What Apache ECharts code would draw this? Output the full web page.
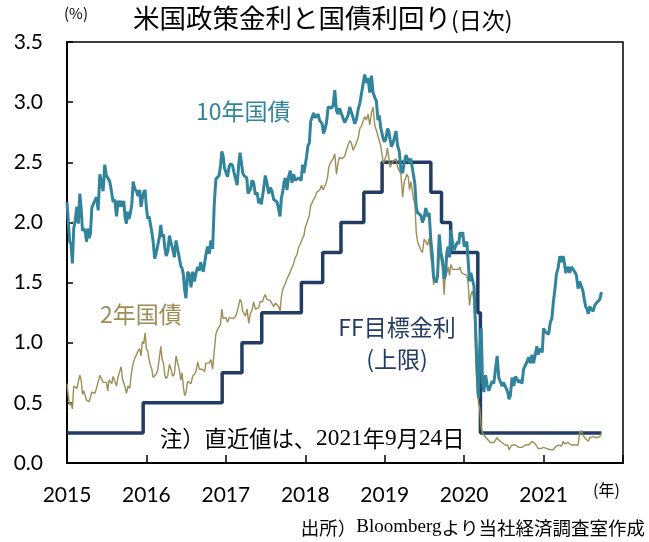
<!DOCTYPE html>
<html><head><meta charset="utf-8">
<script src="https://cdn.jsdelivr.net/npm/echarts@6/dist/echarts.min.js"></script>
<style>html,body{margin:0;padding:0;background:#fff}#c{width:649px;height:542px}</style>
</head><body><div id="c"></div>
<script>
// ---- axis ticks ----
const tickYears = [2015, 2016, 2017, 2018, 2019, 2020, 2021];
const yTicks = [0, 0.5, 1.0, 1.5, 2.0, 2.5, 3.0, 3.5];
const lastDate = '2021-09-24';

// ---- FF target rate (upper bound), change dates ----
const ffDates = ['2015-01-01','2015-12-17','2016-12-15','2017-03-16','2017-06-15','2017-12-14','2018-03-22','2018-06-14','2018-09-27','2018-12-20','2019-08-01','2019-09-19','2019-10-31','2020-03-04','2020-03-16','2021-09-24'];
const ffValues = [0.25,0.50,0.75,1.00,1.25,1.50,1.75,2.00,2.25,2.50,2.25,2.00,1.75,1.25,0.25,0.25];

// ---- 10-year yield, weekly readings grouped by month ----
const y10_2015 = [[2.17,2.00,1.84,1.82,1.66],[1.95,2.02,2.13,1.99],[2.24,2.11,1.93,1.95,1.92],[1.84,1.95,1.87,1.91,2.12],[2.15,2.14,2.21,2.10],[2.40,2.39,2.26,2.48],[2.39,2.40,2.34,2.26],[2.17,2.19,2.05,2.18],[2.13,2.18,2.13,2.18,2.04],[1.99,2.09,2.03,2.08,2.15],[2.34,2.28,2.26,2.22],[2.27,2.13,2.20,2.25,2.27]];
const y10_2016 = [[2.12,2.03,2.05,2.06,1.92],[1.84,1.70,1.75,1.76],[1.88,1.98,1.88,1.90,1.79],[1.72,1.76,1.89,1.83],[1.78,1.71,1.85,1.85],[1.70,1.64,1.62,1.57,1.44],[1.37,1.59,1.57,1.46],[1.59,1.51,1.58,1.63],[1.60,1.67,1.62,1.59,1.60],[1.73,1.80,1.74,1.85],[1.78,2.15,2.36,2.36],[2.39,2.47,2.59,2.55,2.45]];
const y10_2017 = [[2.45,2.38,2.47,2.49],[2.47,2.41,2.42,2.31],[2.48,2.58,2.50,2.41,2.39],[2.38,2.37,2.24,2.24,2.28],[2.35,2.33,2.23,2.25],[2.16,2.20,2.15,2.15,2.30],[2.39,2.33,2.24,2.29],[2.26,2.19,2.19,2.17],[2.16,2.05,2.20,2.25,2.33],[2.37,2.27,2.38,2.43],[2.33,2.40,2.35,2.34],[2.37,2.38,2.35,2.48,2.41]];
const y10_2018 = [[2.48,2.55,2.64,2.66,2.84],[2.85,2.91,2.87,2.86],[2.90,2.85,2.85,2.82,2.74],[2.77,2.83,2.96,2.96],[2.95,2.97,3.10,2.93],[2.90,2.95,2.92,2.89,2.86],[2.83,2.83,2.89,2.96],[2.95,2.87,2.82,2.86],[2.94,2.99,3.07,3.06],[3.23,3.16,3.20,3.08],[3.22,3.08,3.04,3.01],[2.85,2.89,2.79,2.79,2.69]];
const y10_2019 = [[2.67,2.70,2.78,2.76,2.69],[2.63,2.66,2.65,2.76],[2.64,2.59,2.44,2.41],[2.50,2.56,2.56,2.50],[2.53,2.46,2.39,2.32,2.13],[2.08,2.08,2.06,2.00],[2.04,2.12,2.05,2.08],[1.85,1.74,1.55,1.52,1.50],[1.56,1.90,1.75,1.69],[1.53,1.56,1.75,1.80,1.71],[1.94,1.83,1.77,1.78],[1.84,1.82,1.92,1.88,1.92]];
const y10_2020 = [[1.80,1.82,1.84,1.68,1.51],[1.58,1.59,1.47,1.13],[0.76,0.54,0.96,1.12,0.68],[0.59,0.73,0.65,0.60],[0.64,0.68,0.66,0.65],[0.89,0.71,0.70,0.64],[0.67,0.64,0.62,0.59,0.53],[0.56,0.71,0.64,0.72],[0.72,0.67,0.69,0.66],[0.78,0.77,0.84,0.88],[0.83,0.90,0.83,0.84],[0.97,0.90,0.95,0.94,0.92]];
const y10_2021 = [[1.12,1.09,1.09,1.07],[1.17,1.20,1.34,1.44],[1.57,1.62,1.72,1.67],[1.72,1.66,1.58,1.57,1.63],[1.58,1.63,1.63,1.59],[1.56,1.45,1.51,1.52],[1.43,1.36,1.30,1.28,1.24],[1.30,1.28,1.26,1.31],[1.33,1.34,1.36,1.42]];

// ---- 2-year yield, weekly readings grouped by month ----
const y2_2015 = [[0.66,0.55,0.48,0.50,0.45],[0.64,0.63,0.62,0.63],[0.73,0.69,0.57,0.60,0.56],[0.52,0.51,0.51,0.52,0.59],[0.60,0.58,0.62,0.61],[0.73,0.72,0.67,0.68],[0.67,0.60,0.69,0.68,0.66],[0.72,0.73,0.64,0.72],[0.71,0.80,0.70,0.71,0.63],[0.58,0.64,0.62,0.75],[0.83,0.87,0.88,0.93],[0.95,0.89,1.01,0.99,1.08]];
const y2_2016 = [[0.95,0.93,0.86,0.81,0.78],[0.71,0.70,0.74,0.78],[0.88,0.97,0.86,0.83,0.73],[0.70,0.73,0.82,0.78],[0.72,0.74,0.89,0.88],[0.77,0.69,0.75,0.64,0.56],[0.58,0.68,0.69,0.66],[0.72,0.72,0.76,0.84],[0.78,0.78,0.78,0.77,0.76],[0.83,0.84,0.83,0.86],[0.78,0.93,1.07,1.11],[1.10,1.15,1.28,1.20,1.19]];
const y2_2017 = [[1.21,1.17,1.21,1.20],[1.20,1.19,1.22,1.26],[1.31,1.36,1.34,1.26,1.25],[1.22,1.28,1.16,1.24],[1.27,1.34,1.28,1.29],[1.29,1.34,1.33,1.34,1.38],[1.40,1.36,1.35,1.35],[1.35,1.30,1.33,1.33],[1.30,1.26,1.38,1.44,1.47],[1.49,1.53,1.56,1.59],[1.60,1.66,1.71,1.73],[1.79,1.80,1.84,1.87,1.89]];
const y2_2018 = [[1.96,1.99,2.00,2.06,2.14],[2.14,2.19,2.21,2.25],[2.25,2.27,2.31,2.27],[2.27,2.33,2.37,2.46,2.49],[2.49,2.53,2.57,2.40],[2.50,2.54,2.55,2.53,2.53],[2.55,2.60,2.61,2.68],[2.66,2.60,2.63,2.63],[2.70,2.78,2.80,2.81],[2.88,2.85,2.90,2.81],[2.91,2.96,2.81,2.80],[2.72,2.73,2.64,2.63,2.49]];
const y2_2019 = [[2.50,2.55,2.62,2.61,2.46],[2.46,2.51,2.50,2.53],[2.46,2.46,2.40,2.21],[2.34,2.37,2.40,2.38,2.27],[2.34,2.27,2.19,2.16,1.92],[1.84,1.84,1.77,1.75],[1.86,1.84,1.81,1.87],[1.71,1.63,1.48,1.54,1.50],[1.53,1.80,1.69,1.63],[1.40,1.60,1.58,1.63,1.56],[1.65,1.61,1.60,1.61],[1.62,1.61,1.63,1.58,1.57]];
const y2_2020 = [[1.57,1.58,1.56,1.49,1.31],[1.40,1.43,1.35,0.91],[0.59,0.50,0.45,0.30,0.25],[0.23,0.23,0.20,0.20],[0.17,0.16,0.17,0.16],[0.21,0.19,0.19,0.17],[0.16,0.15,0.15,0.15,0.11],[0.13,0.15,0.15,0.15],[0.14,0.13,0.14,0.13],[0.13,0.15,0.15,0.15],[0.16,0.18,0.18,0.16],[0.15,0.12,0.12,0.12,0.13]];
const y2_2021 = [[0.13,0.14,0.12,0.12],[0.11,0.11,0.11,0.13],[0.14,0.15,0.15,0.14],[0.18,0.16,0.16,0.17],[0.16,0.15,0.16,0.15],[0.14,0.15,0.25,0.27],[0.23,0.23,0.20,0.20,0.18],[0.21,0.22,0.22,0.21],[0.21,0.21,0.22,0.25]];

// ---- helpers: date -> fractional year ----
function yearFrac(y, m, d) {
  const s = Date.UTC(y, 0, 1), e = Date.UTC(y + 1, 0, 1);
  return y + (Date.UTC(y, m, d) - s) / (e - s);
}
function dateFrac(str) { const p = str.split('-').map(Number); return yearFrac(p[0], p[1] - 1, p[2]); }
const endX = dateFrac(lastDate);

function build(list) {
  const out = [];
  list.forEach(([yr, months], yi) => {
    months.forEach((vals, m) => {
      const n = vals.length;
      const s = yearFrac(yr, m, 1);
      const isLast = (yi === list.length - 1) && (m === months.length - 1);
      if (isLast) {
        vals.forEach((v, k) => out.push([s + (endX - s) * k / (n - 1), v]));
      } else {
        const e = m === 11 ? yr + 1 : yearFrac(yr, m + 1, 1);
        vals.forEach((v, k) => out.push([s + (e - s) * k / n, v]));
      }
    });
  });
  return out;
}
const data10 = build([[2015,y10_2015],[2016,y10_2016],[2017,y10_2017],[2018,y10_2018],[2019,y10_2019],[2020,y10_2020],[2021,y10_2021]]);
const data2 = build([[2015,y2_2015],[2016,y2_2016],[2017,y2_2017],[2018,y2_2018],[2019,y2_2019],[2020,y2_2020],[2021,y2_2021]]);
const dataFF = ffDates.map((d, i) => [dateFrac(d), ffValues[i]]);

const C10 = '#31849B', C2 = '#9C8E55', CFF = '#233C63';
const JP = '"Noto Sans CJK JP", sans-serif';

const chart = echarts.init(document.getElementById('c'), null, { renderer: 'canvas' });
chart.setOption({
  animation: false,
  backgroundColor: '#fff',
  grid: { left: 67, right: 26, top: 42, bottom: 79, show: true, borderColor: '#000', borderWidth: 1.5, backgroundColor: 'transparent' },
  xAxis: {
    type: 'value', min: 2015, max: 2022, interval: 1,
    axisLine: { show: true, onZero: false, lineStyle: { color: '#000', width: 2 } },
    axisTick: { show: true, inside: true, length: 8, lineStyle: { color: '#000', width: 1.5 } },
    axisLabel: { margin: 22, fontSize: 21, fontFamily: 'Lato', color: '#000',
      formatter: v => tickYears.includes(Math.round(v)) ? String(Math.round(v)) : '' },
    splitLine: { show: false }
  },
  yAxis: {
    type: 'value', min: yTicks[0], max: yTicks[yTicks.length - 1], interval: 0.5,
    axisLine: { show: true, lineStyle: { color: '#000', width: 2 } },
    axisTick: { show: true, inside: true, length: 6, lineStyle: { color: '#000', width: 1.5 } },
    axisLabel: { margin: 24, fontSize: 21, fontFamily: 'Lato', color: '#000', formatter: v => v.toFixed(1) },
    splitLine: { show: false }
  },
  series: [
    { name: 'FF', type: 'line', step: 'end', data: dataFF, showSymbol: false, silent: true,
      lineStyle: { color: CFF, width: 3.5 } },
    { name: '2年国債', type: 'line', data: data2, showSymbol: false, silent: true,
      lineStyle: { color: C2, width: 1.4 } },
    { name: '10年国債', type: 'line', data: data10, showSymbol: false, silent: true,
      lineStyle: { color: C10, width: 3 } }
  ],
  graphic: [
    { type: 'text', left: 133, top: 5, style: { text: '{a|米国政策金利と国債利回り}{b|(日次)}',
      rich: { a: { fontSize: 26.5, fontFamily: JP, fill: '#000', verticalAlign: 'bottom' }, b: { fontSize: 23, fontFamily: JP, fill: '#000', verticalAlign: 'bottom' } } } },
    { type: 'text', left: 64, top: 6, style: { text: '(%)', fontSize: 15, fontFamily: JP, fill: '#000' } },
    { type: 'text', left: 593, top: 482, style: { text: '(年)', fontSize: 16, fontFamily: JP, fill: '#000' } },
    { type: 'text', left: 196, top: 100, style: { text: '10年国債', fontSize: 23, fontFamily: JP, fill: C10 } },
    { type: 'text', left: 100, top: 303, style: { text: '2年国債', fontSize: 23, fontFamily: JP, fill: C2 } },
    { type: 'text', x: 397, y: 327, style: { text: 'FF目標金利', fontSize: 23, fontFamily: JP, fill: CFF, align: 'center', verticalAlign: 'middle' } },
    { type: 'text', x: 397, y: 359, style: { text: '(上限)', fontSize: 23, fontFamily: JP, fill: CFF, align: 'center', verticalAlign: 'middle' } },
    { type: 'text', left: 160, top: 427, style: { text: '{a|注）直近値は、}{b|2021}{a|年}{b|9}{a|月}{b|24}{a|日}',
      rich: { a: { fontSize: 22.3, fontFamily: JP, fill: '#000' }, b: { fontSize: 23.3, fontFamily: '"Liberation Serif", serif', fill: '#000' } } } },
    { type: 'text', right: 4, top: 518, style: { text: '{a|出所）}{b|Bloomberg}{a|より当社経済調査室作成}',
      rich: { a: { fontSize: 18.5, fontFamily: JP, fill: '#000' }, b: { fontSize: 19, fontFamily: '"Liberation Serif", serif', fill: '#000' } } } }
  ]
});
</script></body></html>
